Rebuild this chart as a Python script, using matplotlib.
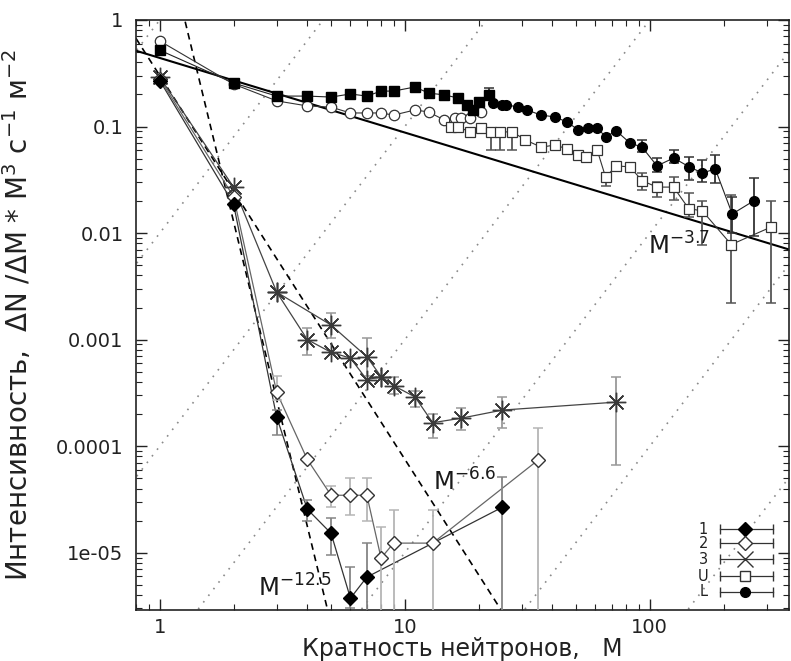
import matplotlib.pyplot as plt
import numpy as np
from matplotlib.ticker import FixedLocator, FixedFormatter, LogLocator, NullFormatter

plt.rcParams["font.family"] = ["DejaVu Sans"]
plt.rcParams["mathtext.fontset"] = "dejavusans"

NAN = np.nan

# series 1 (filled diamonds)
m1 = [1, 2, 3, 4, 5, 6, 7, 25]
y1 = [0.27, 0.0187, 1.87e-4, 2.56e-5, 1.52e-5, 3.74e-6, 5.9e-6, 2.67e-5]
lo1 = [NAN, NAN, 1.27e-4, 2.0e-5, 9.5e-6, 3.0e-6, 1e-7, 1e-7]
hi1 = [NAN, NAN, 2.18e-4, 3.1e-5, 2.1e-5, 7.3e-6, 1.23e-5, 5.1e-5]

# series 2 (open diamonds)
m2 = [1, 2, 3, 4, 5, 6, 7, 8, 9, 13, 35]
y2 = [0.28, 0.022, 3.2e-4, 7.5e-5, 3.46e-5, 3.46e-5, 3.46e-5, 8.9e-6, 1.23e-5, 1.23e-5, 7.4e-5]
lo2 = [NAN, NAN, 2.7e-4, NAN, 2.7e-5, 2.25e-5, 2.0e-5, 1e-7, 1e-7, 1e-7, 1e-7]
hi2 = [NAN, NAN, 4.6e-4, NAN, 4.2e-5, 5.0e-5, 5.0e-5, 1.75e-5, 2.5e-5, 2.5e-5, 1.48e-4]

# series 3 (asterisks), main chain and side chain
m3 = [1, 2, 3, 4, 5, 6, 7, 8, 9, 11, 13, 17, 25, 73]
y3 = [0.29, 0.027, 2.79e-3, 1.0e-3, 7.6e-4, 6.7e-4, 4.2e-4, 4.5e-4, 3.7e-4, 2.9e-4, 1.66e-4, 1.83e-4, 2.18e-4, 2.59e-4]
lo3 = [NAN, NAN, NAN, 7.1e-4, NAN, NAN, NAN, NAN, 3.1e-4, 2.35e-4, 1.2e-4, 1.42e-4, 1.48e-4, 6.6e-5]
hi3 = [NAN, NAN, NAN, 1.28e-3, NAN, NAN, NAN, NAN, 4.5e-4, 3.3e-4, 2.0e-4, 2.3e-4, 2.87e-4, 4.45e-4]
m3b = [3, 5, 7, 8]
y3b = [2.79e-3, 1.37e-3, 6.9e-4, 4.5e-4]
lo3b = [NAN, 1.03e-3, 4.6e-4, NAN]
hi3b = [NAN, 1.77e-3, 1.04e-3, NAN]

# U: open circles (low M) and open squares (high M)
mU_c = [1, 2, 3, 4, 5, 6, 7, 8, 9, 11, 12.5, 14.5, 16, 17, 18.5, 20.5]
yU_c = [0.635, 0.25, 0.174, 0.156, 0.152, 0.134, 0.134, 0.134, 0.128, 0.143, 0.137, 0.115,
        0.12, 0.12, 0.12, 0.137]
mU_s = [15.5, 16.5, 18.5, 20.5, 22.5, 24.5, 27.5, 31, 36, 41, 46, 51, 55, 61, 66, 73, 83,
        93, 107, 125, 144, 164, 215, 313]
yU_s = [0.0987, 0.0987, 0.089, 0.097, 0.089, 0.089, 0.089, 0.075, 0.064, 0.067, 0.0617,
        0.054, 0.052, 0.060, 0.0335, 0.0427, 0.0418, 0.031, 0.027, 0.027, 0.017, 0.0161,
        0.0078, 0.0114]
loU_s = [NAN, NAN, NAN, NAN, 0.060, 0.060, 0.060, NAN, NAN, NAN, NAN, NAN, NAN, NAN,
         0.0276, NAN, NAN, 0.0253, 0.0218, 0.0205, 0.0141, 0.0077, 0.0022, 0.0022]
hiU_s = [NAN, NAN, NAN, NAN, 0.095, 0.095, 0.095, NAN, NAN, NAN, NAN, NAN, NAN, NAN,
         0.0366, NAN, NAN, 0.0366, 0.030, 0.0336, 0.0238, 0.020, 0.0227, 0.020]

# L: filled squares (low M) and filled circles (high M)
mL_s = [1, 2, 3, 4, 5, 6, 7, 8, 9, 11, 12.5, 14.5, 16.5, 18, 19, 20, 22]
yL_s = [0.52, 0.256, 0.193, 0.193, 0.189, 0.202, 0.193, 0.215, 0.215, 0.235, 0.206,
        0.198, 0.185, 0.159, 0.143, 0.17, 0.198]
loL_s = [NAN] * 16 + [0.177]
hiL_s = [NAN] * 16 + [0.23]
mL_c = [23, 25, 26, 29, 31.5, 36, 41, 46, 51, 56, 61, 66, 73, 83, 93, 107, 125, 145, 164,
        185, 217, 265]
yL_c = [0.166, 0.159, 0.159, 0.153, 0.143, 0.128, 0.123, 0.110, 0.093, 0.097, 0.097,
        0.080, 0.091, 0.070, 0.064, 0.0427, 0.0506, 0.0418, 0.0366, 0.040, 0.0151, 0.020]
loL_c = [NAN] * 14 + [0.0574, 0.0375, 0.0454, 0.0316, 0.030, 0.0294, 0.010, 0.0093]
hiL_c = [NAN] * 14 + [0.0748, 0.0505, 0.0601, 0.0516, 0.0484, 0.0541, 0.0218, 0.0328]

# power-law fits (exponent of dN/dM) and amplitudes in M^3 dN/dM
fit_gamma = [3.7, 6.6, 12.5]
fit_amp = [0.44, 0.30, 9.3]
fit_labels = ["M$^{-3.7}$", "M$^{-6.6}$", "M$^{-12.5}$"]

# constant dN/dM guide lines: M^3 * C
guide_c = [1, 1e-2, 1e-4, 1e-6, 1e-8, 1e-10, 1e-12]

y_ticks = [1, 0.1, 0.01, 0.001, 0.0001, 1e-05]
y_tick_labels = ["1", "0.1", "0.01", "0.001", "0.0001", "1e-05"]
x_ticks = [1, 10, 100]
x_tick_labels = ["1", "10", "100"]

legend_names = ["1", "2", "3", "U", "L"]


def yerr(y, lo, hi):
    y = np.asarray(y, float)
    return np.vstack([y - np.asarray(lo, float), np.asarray(hi, float) - y])


fig = plt.figure(figsize=(7.91, 6.61), dpi=100)
ax = fig.add_axes([0.172, 0.0772, 0.8255, 0.8926])
ax.set_xscale("log")
ax.set_yscale("log")
ax.set_xlim(0.8, 370)
ax.set_ylim(2.9e-6, 1.0)

mm = np.logspace(np.log10(0.5), np.log10(500), 200)
for c in guide_c:
    ax.plot(mm, c * mm ** 3, color="#8a8a8a", lw=1.2, ls=(0, (1, 4)), zorder=1)

for g, a in zip(fit_gamma, fit_amp):
    ls = "-" if g < 5 else (0, (4, 3))
    lw = 1.5 if g < 5 else 1.2
    ax.plot(mm, a * mm ** (3 - g), color="black", lw=lw, ls=ls, zorder=2)

# connecting lines
ax.plot(mL_s + mL_c, yL_s + yL_c, color="#222222", lw=0.8, zorder=3)
ax.plot(mU_c, yU_c, color="#333333", lw=0.8, zorder=3)
ax.plot(mU_s, yU_s, color="#333333", lw=0.8, zorder=3)
ax.plot(m1, y1, color="#333333", lw=0.9, zorder=3)
ax.plot(m2, y2, color="#666666", lw=0.9, zorder=3)
ax.plot(m3, y3, color="#444444", lw=0.9, zorder=3)
ax.plot(m3b, y3b, color="#444444", lw=0.9, zorder=3)

# error bars
eb = dict(fmt="none", capsize=3.5, elinewidth=1.3, capthick=1.1, zorder=4)
ax.errorbar(m1, y1, yerr=yerr(y1, lo1, hi1), ecolor="#858585", **eb)
ax.errorbar(m2, y2, yerr=yerr(y2, lo2, hi2), ecolor="#b5b5b5", **eb)
ax.errorbar(m3, y3, yerr=yerr(y3, lo3, hi3), ecolor="#999999", **eb)
ax.errorbar(m3b, y3b, yerr=yerr(y3b, lo3b, hi3b), ecolor="#999999", **eb)
ax.errorbar(mU_s, yU_s, yerr=yerr(yU_s, loU_s, hiU_s), ecolor="#555555", **eb)
ax.errorbar(mL_s, yL_s, yerr=yerr(yL_s, loL_s, hiL_s), ecolor="#333333", **eb)
ax.errorbar(mL_c, yL_c, yerr=yerr(yL_c, loL_c, hiL_c), ecolor="#333333", **eb)

# markers
ax.plot(m3, y3, ls="none", marker=(8, 2, 0), ms=14, mew=1.0, mec="#3a3a3a", zorder=5)
ax.plot(m3b, y3b, ls="none", marker=(8, 2, 0), ms=14, mew=1.0, mec="#3a3a3a", zorder=5)
ax.plot(m2, y2, ls="none", marker="D", ms=7.5, mfc="white", mec="#333333", mew=1.0, zorder=6)
ax.plot(m1, y1, ls="none", marker="D", ms=7.5, mfc="black", mec="black", zorder=7)
ax.plot(mU_c, yU_c, ls="none", marker="o", ms=7.5, mfc="white", mec="#333333", mew=0.9, zorder=6)
ax.plot(mU_s, yU_s, ls="none", marker="s", ms=7.5, mfc="white", mec="#333333", mew=0.9, zorder=6)
ax.plot(mL_s, yL_s, ls="none", marker="s", ms=7, mfc="black", mec="black", zorder=7)
ax.plot(mL_c, yL_c, ls="none", marker="o", ms=7, mfc="black", mec="black", zorder=7)

# fit labels
label_pos = [(0.784, 0.602), (0.455, 0.203), (0.187, 0.022)]
for txt, (tx, ty) in zip(fit_labels, label_pos):
    ax.text(tx, ty, txt, transform=ax.transAxes, fontsize=17.5, va="baseline", ha="left",
            color="#1a1a1a", zorder=8)

# legend, gnuplot style
leg_markers = [
    dict(marker="D", ms=7.5, mfc="black", mec="black"),
    dict(marker="D", ms=7.5, mfc="white", mec="#333333"),
    dict(marker="x", ms=11, mec="#333333", mew=1.0),
    dict(marker="s", ms=7.5, mfc="white", mec="#333333"),
    dict(marker="o", ms=7, mfc="black", mec="black"),
]
leg_rows = [0.137, 0.113, 0.086, 0.057, 0.031]
for name, mk, ry in zip(legend_names, leg_markers, leg_rows):
    ax.text(0.876, ry, name, transform=ax.transAxes, fontsize=10.5, ha="right", va="center",
            color="#222222")
    ax.plot([0.894, 0.975], [ry, ry], transform=ax.transAxes, color="#333333", lw=0.9,
            marker="|", ms=7, mew=1.0, zorder=9)
    ax.plot([0.932], [ry], transform=ax.transAxes, ls="none", zorder=10, **mk)

ax.yaxis.set_major_locator(FixedLocator(y_ticks))
ax.yaxis.set_major_formatter(FixedFormatter(y_tick_labels))
ax.yaxis.set_minor_locator(LogLocator(base=10, subs=np.arange(2, 10), numticks=20))
ax.yaxis.set_minor_formatter(NullFormatter())
ax.xaxis.set_major_locator(FixedLocator(x_ticks))
ax.xaxis.set_major_formatter(FixedFormatter(x_tick_labels))
ax.xaxis.set_minor_locator(LogLocator(base=10, subs=np.arange(2, 10), numticks=20))
ax.xaxis.set_minor_formatter(NullFormatter())

ax.tick_params(which="both", direction="in", top=True, right=True, color="#222222")
ax.tick_params(which="major", length=8, width=1.0)
ax.tick_params(which="minor", length=4, width=0.8)
ax.tick_params(axis="y", which="major", labelsize=14, pad=9, labelcolor="#222222")
ax.tick_params(axis="x", which="major", labelsize=14, pad=5.5, labelcolor="#222222")
for sp in ax.spines.values():
    sp.set_linewidth(1.2)
    sp.set_color("#222222")

ax.set_xlabel("Кратность нейтронов,   M", fontsize=17, color="#222222")
ax.xaxis.set_label_coords(0.5, -0.0466)
ax.set_ylabel("Интенсивность,  ΔN /ΔM * M$^3$ с$^{-1}$ м$^{-2}$", fontsize=20,
              color="#222222")
ax.yaxis.set_label_coords(-0.156, 0.5)

fig.savefig("out.png", dpi=100)
